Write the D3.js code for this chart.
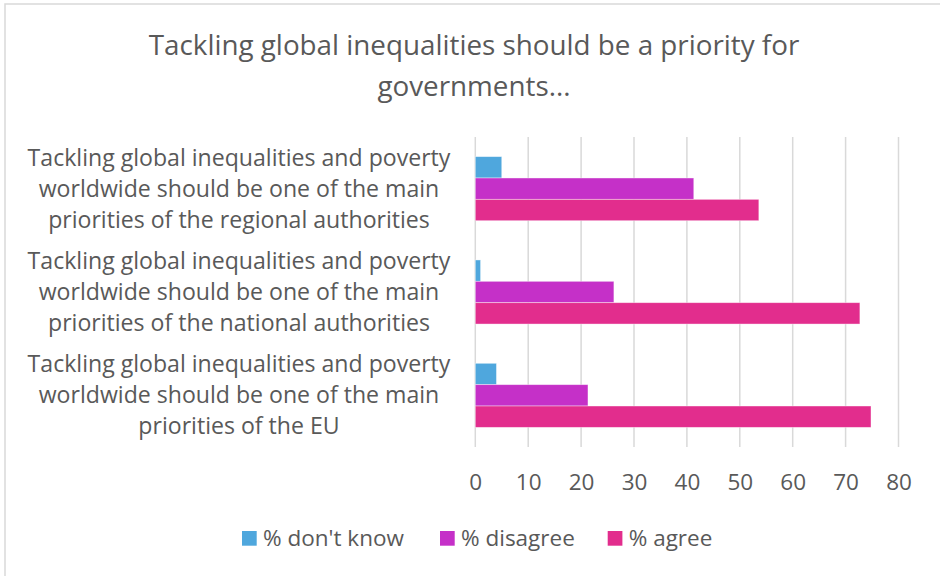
<!DOCTYPE html>
<html>
<head>
<meta charset="utf-8">
<script src="https://cdn.jsdelivr.net/npm/d3@7"></script>
<style>
  html, body { margin: 0; padding: 0; background: #fff; }
  svg { display: block; font-family: "Open Sans", sans-serif; }
</style>
</head>
<body>
<svg id="chart" width="940" height="576"></svg>
<script>
// Survey categories, top to bottom
const categories = [
  ["Tackling global inequalities and poverty", "worldwide should be one of the main", "priorities of the regional authorities"],
  ["Tackling global inequalities and poverty", "worldwide should be one of the main", "priorities of the national authorities"],
  ["Tackling global inequalities and poverty", "worldwide should be one of the main", "priorities of the EU"]
];
const seriesNames = ["% don't know", "% disagree", "% agree"];
const dontKnow = [5, 1, 4];
const disagree = [41.3, 26.2, 21.3];
const agree = [53.6, 72.7, 74.8];
const tickValues = [0, 10, 20, 30, 40, 50, 60, 70, 80];
const titleLines = ["Tackling global inequalities should be a priority for", "governments..."];
const colors = ["#4FA7DD", "#C530C8", "#E22D8D"];

const series = [dontKnow, disagree, agree];
const svg = d3.select("#chart");
const textColor = "#595959";

// chart frame
svg.append("rect")
  .attr("x", 5).attr("y", 4).attr("width", 1000).attr("height", 600)
  .attr("fill", "none").attr("stroke", "#d9d9d9").attr("stroke-width", 1.5);

// title
svg.append("g").selectAll("text").data(titleLines).join("text")
  .attr("x", 474).attr("y", (d, i) => 55 + i * 41)
  .attr("text-anchor", "middle")
  .attr("fill", textColor)
  .attr("font-size", 27.8)
  .text(d => d);

const plot = { left: 475.3, right: 898.5, top: 137, bottom: 447 };

const x = d3.scaleLinear().domain([0, 80]).range([plot.left, plot.right]);
const y = d3.scaleBand().domain(d3.range(categories.length)).range([plot.top, plot.bottom]).paddingInner(0.38).paddingOuter(0.19);
const ySub = d3.scaleBand().domain(d3.range(series.length)).range([0, y.bandwidth()]);

// vertical gridlines
svg.append("g").selectAll("line").data(tickValues).join("line")
  .attr("x1", d => x(d)).attr("x2", d => x(d))
  .attr("y1", plot.top).attr("y2", plot.bottom)
  .attr("stroke", "#d9d9d9").attr("stroke-width", 1.5);

// bars
const groups = svg.append("g").selectAll("g").data(categories).join("g")
  .attr("transform", (d, i) => `translate(0,${y(i)})`);
groups.selectAll("rect")
  .data((d, i) => series.map((s, k) => ({ k, v: s[i] })))
  .join("rect")
  .attr("x", x(0))
  .attr("y", d => ySub(d.k))
  .attr("width", d => x(d.v) - x(0))
  .attr("height", ySub.bandwidth())
  .attr("fill", d => colors[d.k])
  .attr("stroke", "rgba(255,255,255,0.5)")
  .attr("stroke-width", 0.8);

// x axis tick labels
const xAxis = d3.axisBottom(x).tickValues(tickValues).tickSize(0).tickPadding(0);
const ax = svg.append("g").attr("transform", `translate(0,${plot.bottom})`).call(xAxis);
ax.select(".domain").remove();
ax.selectAll("text")
  .attr("y", 43).attr("dy", 0)
  .attr("fill", textColor)
  .attr("font-size", 22.5)
  .attr("font-family", "Open Sans, sans-serif");

// category labels
const labels = svg.append("g").selectAll("text").data(categories).join("text")
  .attr("text-anchor", "middle")
  .attr("fill", textColor)
  .attr("font-size", 23.1);
labels.each(function (lines, i) {
  const cy = y(i) + y.bandwidth() / 2;
  d3.select(this).selectAll("tspan").data(lines).join("tspan")
    .attr("x", 239)
    .attr("y", (d, j) => cy + (j - 1) * 31 + 8)
    .text(d => d);
});

// legend
const legendX = [242, 440, 607.7];
const legend = svg.append("g").selectAll("g").data(seriesNames).join("g")
  .attr("transform", (d, i) => `translate(${legendX[i]},531)`);
legend.append("rect")
  .attr("width", 14.7).attr("height", 14.7)
  .attr("fill", (d, i) => colors[i]);
legend.append("text")
  .attr("x", 21).attr("y", 14.7)
  .attr("fill", textColor)
  .attr("font-size", 22.5)
  .text(d => d);
</script>
</body>
</html>
